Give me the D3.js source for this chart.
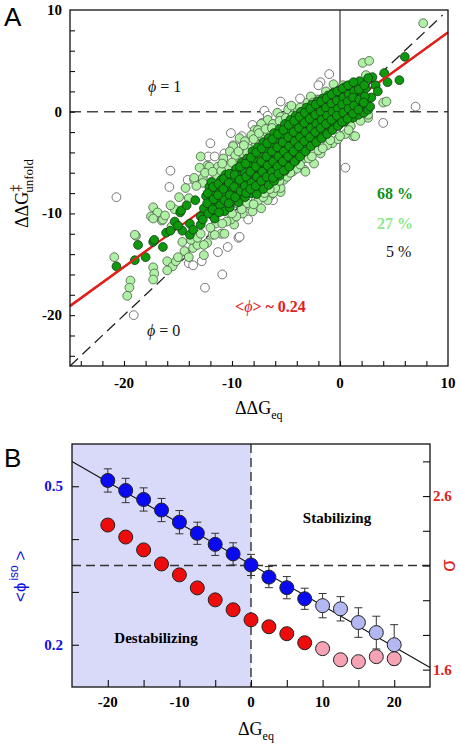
<!DOCTYPE html>
<html><head><meta charset="utf-8">
<script src="https://cdn.jsdelivr.net/npm/d3@7"></script>
<style>body{margin:0;background:#fff}svg{display:block}</style>
</head><body>
<script>
// ---------- Panel A data ----------
const openPts = [[-20.7,-8.4],[-15.7,-5.8],[-15.8,-7.4],[-12.0,-3.1],[-12.2,-4.4],[-11.6,-4.4],[-10.7,-4.1],[-10.1,-2.1],[-9.1,-2.4],[-8.1,-1.3],[-7.2,-1.1],[-7.0,0.1],[-6.7,-0.4],[-5.5,1.0],[-4.7,0.5],[-3.7,1.3],[-1.8,2.9],[-1.0,3.7],[-2.0,2.6],[0.5,-5.5],[4.0,-1.1],[7.0,0.5],[-8.5,-10.6],[-9.4,-12.4],[-19.1,-20.0],[-14.0,-14.9],[-12.8,-14.7],[-12.5,-17.3],[-10.9,-16.0],[-11.3,-13.8],[-10.4,-13.3],[-9.3,-12.3],[-6.2,-8.7],[-14.1,-6.7],[-9.9,-3.3],[-9.2,-3.5],[-13.6,-15.1]];
const lightPts = [[-17.3,-9.4],[-17.5,-10.3],[-16.9,-9.9],[-16.5,-10.7],[-17.3,-10.5],[-16.4,-10.6],[-18.9,-12.2],[-19.0,-12.1],[-20.9,-14.3],[-17.3,-15.3],[-17.2,-15.9],[-17.3,-16.5],[-19.4,-16.6],[-19.5,-17.3],[-19.7,-18.1],[-16.0,-14.7],[-15.5,-15.2],[-16.0,-15.6],[-15.2,-14.7],[-15.0,-14.3],[-14.6,-12.8],[-14.3,-13.8],[-13.6,-13.4],[-13.2,-13.1],[-12.3,-12.9],[-13.8,-12.6],[-15.6,-11.3],[-14.4,-13.7],[-14.0,-14.3],[-13.2,-12.4],[-12.6,-13.1],[-11.8,-12.1],[-11.0,-12.0],[-10.7,-12.0],[-11.6,-12.1],[-12.6,-14.1],[-9.8,-11.1],[-9.0,-10.0],[-9.2,-9.3],[-8.4,-9.2],[-7.8,-8.7],[-6.4,-8.2],[-5.5,-7.9],[-10.7,-9.7],[-9.5,-9.0],[-8.9,-8.7],[-10.1,-10.6],[-7.6,-8.8],[-6.7,-8.7],[-6.2,-8.0],[-5.5,-7.5],[-5.2,-6.7],[-7.3,-9.5],[-8.1,-9.8],[-5.9,-7.0],[-4.8,-5.4],[-4.4,-5.9],[-3.3,-5.7],[-3.5,-4.7],[-2.4,-5.1],[-1.8,-4.1],[-0.7,-3.1],[-3.2,-5.9],[1.0,-1.4],[1.2,-2.4],[1.4,-2.4],[0.9,-0.5],[2.6,-0.6],[2.6,-0.3],[2.1,0.4],[4.0,0.9],[4.3,1.0],[-11.5,-11.0],[-10.5,-10.8],[-9.6,-10.3],[-8.6,-9.0],[-7.1,-8.4],[-6.0,-7.5],[-4.9,-6.4],[-4.0,-5.6],[-2.9,-4.6],[-2.0,-3.8],[-1.2,-3.3],[-0.2,-2.7],[0.5,-2.2],[-13.5,-6.7],[-12.7,-6.5],[-14.3,-7.5],[-14.0,-8.5],[-11.5,-6.2],[-11.3,-5.4],[-10.4,-5.4],[-9.5,-4.7],[-9.0,-4.1],[-8.5,-3.6],[-7.8,-3.1],[-7.3,-2.4],[-6.7,-2.1],[-5.9,-1.8],[-5.2,-1.4],[-7.0,-1.4],[-6.7,-0.8],[-5.8,-0.1],[-4.8,0.2],[-4.2,-0.1],[-3.3,0.0],[-3.0,0.9],[-2.2,1.2],[-1.6,0.9],[-1.3,2.0],[-7.9,-1.8],[-12.3,-5.3],[-12.9,-4.4],[-12.1,-5.4],[-9.9,-3.4],[-9.3,-2.6],[-7.3,-1.2],[-5.5,-0.5],[-3.9,0.2],[-1.9,1.2],[-15.3,-9.6],[-13.5,-6.5],[-12.7,-7.0],[-10.8,-4.6],[-10.2,-3.9],[-8.8,-2.9],[-8.2,-2.3],[-7.6,-1.8],[-6.2,-1.2],[-4.5,0.6],[-2.7,1.5],[-8.6,-4.0],[-11.0,-5.8],[-9.7,-4.3],[2.1,4.8],[2.7,5.0],[2.4,3.6],[7.7,8.7],[1.4,2.7],[0.3,2.6],[-0.6,2.7],
[-13.0,-5.5],[-12.5,-6.0],[-13.3,-7.3],[-11.8,-5.9],[-10.9,-5.1],[-10.0,-5.0],[-9.4,-3.9],[-8.9,-3.3],[-8.0,-2.7],[-7.5,-2.1],[-6.9,-1.7],[-6.3,-1.6],[-5.6,-0.9],[-5.0,-0.6],[-4.4,-0.4],[-3.7,0.4],[-3.1,0.2],[-2.5,0.9],[-14.9,-8.4],[-15.7,-9.2],[-16.2,-10.2],[-12.9,-12.0],[-12.0,-11.4],[-10.9,-11.0],[-10.0,-10.0],[-9.1,-9.6],[-8.0,-9.1],[-7.0,-8.0],[-6.5,-7.6],[-5.6,-6.8],[-4.6,-6.0],[-3.7,-5.2],[-2.6,-4.4],[-1.6,-3.6],[-0.9,-2.8],[0.0,-2.4],[0.8,-1.8],[1.9,-0.9]];
const darkPts = [[-20.7,-15.2],[-19.0,-14.6],[-18.7,-13.1],[-18.0,-14.3],[-17.3,-12.8],[-16.4,-13.3],[-16.1,-11.9],[-15.7,-11.7],[-15.3,-10.8],[-14.8,-9.9],[-14.6,-11.7],[-13.9,-12.1],[-13.4,-8.7],[-12.9,-11.1],[-14.7,-9.7],[-14.2,-9.2],[-12.9,-10.3],[-12.3,-9.7],[-11.3,-9.7],[-13.9,-11.0],[-13.6,-11.6],[-17.2,-12.6],[-15.0,-11.2],
[-12.6,-9.5],[-12.4,-8.3],[-12.7,-10.6],[-12.1,-7.4],[-12.0,-8.9],[-11.8,-10.2],[-11.9,-6.9],[-11.6,-8.0],[-11.4,-9.4],[-11.5,-7.5],[-11.2,-8.6],[-11.6,-10.5],
[-11.0,-6.7],[-10.8,-8.1],[-11.1,-9.2],[-10.7,-9.8],[-10.5,-7.3],[-10.3,-8.7],[-10.6,-6.2],[-10.2,-9.4],[-10.0,-7.9],[-9.8,-6.6],[-10.1,-8.9],[-9.7,-5.9],
[-9.5,-7.1],[-9.4,-8.3],[-9.6,-5.6],[-9.2,-6.3],[-9.4,-8.9],[-9.0,-7.6],[-8.8,-6.0],[-9.1,-5.0],[-8.8,-8.4],[-8.9,-6.9],
[-8.5,-7.2],[-8.3,-5.4],[-8.6,-4.6],[-8.2,-8.0],[-8.5,-6.3],[-8.0,-6.8],[-7.8,-4.9],[-8.1,-3.9],[-7.8,-7.7],[-8.0,-5.8],
[-7.5,-6.2],[-7.3,-4.4],[-7.6,-3.5],[-7.3,-7.4],[-7.5,-5.3],[-7.7,-8.1],[-7.0,-5.7],[-6.8,-3.9],[-7.1,-3.0],[-6.8,-6.9],[-7.0,-4.8],[-7.1,-7.6],
[-6.5,-5.2],[-6.3,-3.4],[-6.6,-2.6],[-6.3,-6.4],[-6.5,-4.3],[-6.6,-7.2],[-6.0,-4.7],[-5.8,-3.0],[-6.1,-2.1],[-5.8,-5.9],[-6.0,-3.8],[-6.1,-6.8],
[-5.5,-4.2],[-5.3,-2.5],[-5.6,-1.7],[-5.3,-5.4],[-5.5,-3.3],[-5.6,-6.3],[-5.0,-3.7],[-4.8,-2.0],[-5.1,-1.2],[-4.8,-4.9],[-5.0,-2.9],[-5.1,-5.8],
[-4.5,-3.3],[-4.3,-1.6],[-4.6,-0.8],[-4.3,-4.4],[-4.5,-2.4],[-4.6,-5.3],[-4.0,-2.8],[-3.8,-1.1],[-4.1,-0.4],[-3.8,-3.9],[-4.0,-2.0],[-4.1,-4.8],
[-3.5,-2.3],[-3.3,-0.7],[-3.6,0.0],[-3.3,-3.4],[-3.5,-1.5],[-3.6,-4.2],[-3.0,-1.9],[-2.8,-0.3],[-3.1,0.4],[-2.8,-2.9],[-3.0,-1.1],[-3.1,-3.7],
[-2.5,-1.4],[-2.3,0.1],[-2.6,0.7],[-2.3,-2.4],[-2.5,-0.6],[-2.6,-3.2],[-2.0,-1.0],[-1.8,0.5],[-2.1,1.0],[-1.8,-2.0],[-2.0,-0.2],[-2.1,-2.8],
[-1.5,-0.6],[-1.3,0.8],[-1.6,1.3],[-1.3,-1.6],[-1.5,0.2],[-1.6,-2.4],[-1.0,-0.2],[-0.8,1.1],[-1.1,1.6],[-0.8,-1.2],[-1.0,0.5],[-1.1,-2.0],
[-0.5,0.2],[-0.3,1.4],[-0.6,1.9],[-0.3,-0.9],[-0.5,0.8],[-0.6,-1.6],[0.0,0.5],[0.2,1.6],[-0.1,2.1],[0.2,-0.5],[0.0,1.1],[-0.1,-1.3],
[0.5,0.8],[0.7,2.0],[0.4,2.4],[0.7,-0.2],[0.5,1.4],[0.4,-1.0],[1.0,1.2],[1.2,2.4],[0.9,0.2],[1.2,-0.6],[1.0,1.8],
[1.5,1.5],[1.7,2.6],[1.4,0.5],[1.7,-0.3],[1.5,2.1],[2.0,1.9],[2.2,0.6],[1.9,2.8],[2.2,-0.1],[2.5,1.2],[2.4,2.3],[2.6,0.2],
[2.9,1.4],[3.0,3.4],[1.8,3.0],[3.3,2.6],[4.1,3.8],[4.4,2.9],[5.5,3.1],[6.0,5.4],[2.8,0.5],[3.5,2.0],[2.6,3.3],
[-12.25,-8.0],[-12.3,-9.0],[-12.2,-10.0],[-11.75,-7.4],[-11.7,-8.6],[-11.8,-9.6],[-11.25,-7.1],[-11.3,-8.2],[-11.2,-9.9],
[-10.75,-6.6],[-10.8,-7.6],[-10.7,-8.7],[-10.25,-6.1],[-10.3,-7.0],[-10.2,-8.2],[-10.3,-9.0],[-9.75,-6.2],[-9.8,-7.4],[-9.7,-8.4],
[-9.25,-5.4],[-9.3,-6.7],[-9.2,-7.8],[-8.75,-5.1],[-8.7,-6.4],[-8.8,-7.3],[-8.7,-8.0],[-8.25,-4.5],[-8.3,-5.9],[-8.2,-7.0],[-8.3,-7.6],
[-7.75,-4.0],[-7.8,-5.4],[-7.7,-6.4],[-7.8,-7.3],[-7.25,-3.6],[-7.3,-4.9],[-7.2,-5.9],[-7.3,-6.8],[-6.75,-3.1],[-6.8,-4.4],[-6.7,-5.3],[-6.8,-6.4],
[-6.25,-2.7],[-6.3,-3.9],[-6.2,-4.9],[-6.3,-5.9],[-6.2,-6.5],[-5.75,-2.2],[-5.8,-3.5],[-5.7,-4.4],[-5.8,-5.4],[-5.7,-6.1],
[-5.25,-1.8],[-5.3,-3.0],[-5.2,-3.9],[-5.3,-4.9],[-5.2,-5.8],[-4.75,-1.3],[-4.8,-2.5],[-4.7,-3.4],[-4.8,-4.4],[-4.7,-5.4],
[-4.25,-0.9],[-4.3,-2.0],[-4.2,-2.9],[-4.3,-3.9],[-4.2,-4.9],[-3.75,-0.5],[-3.8,-1.6],[-3.7,-2.5],[-3.8,-3.4],[-3.7,-4.4],
[-3.25,-0.1],[-3.3,-1.1],[-3.2,-2.0],[-3.3,-2.9],[-3.2,-3.9],[-2.75,0.3],[-2.8,-0.7],[-2.7,-1.6],[-2.8,-2.5],[-2.7,-3.4],
[-2.25,0.7],[-2.3,-0.3],[-2.2,-1.2],[-2.3,-2.0],[-2.2,-3.0],[-1.75,1.0],[-1.8,0.0],[-1.7,-0.8],[-1.8,-1.6],[-1.7,-2.6],
[-1.25,1.3],[-1.3,0.4],[-1.2,-0.4],[-1.3,-1.2],[-1.2,-2.2],[-0.75,1.7],[-0.8,0.8],[-0.7,0.0],[-0.8,-0.8],[-0.7,-1.8],
[-0.25,2.0],[-0.3,1.1],[-0.2,0.3],[-0.3,-0.4],[-0.2,-1.4],[0.25,2.3],[0.3,1.4],[0.2,0.7],[0.3,-0.1],[0.2,-1.0],
[0.75,2.6],[0.8,1.7],[0.7,1.0],[0.8,0.3],[0.7,-0.7],[1.25,2.9],[1.3,2.0],[1.2,1.4],[1.3,0.6],[1.2,-0.2],
[1.75,2.2],[1.8,1.2],[1.7,0.2],[2.25,2.6],[2.3,1.5],[2.2,0.9]];
const fitX = [-25, 10];
const fitY = [-19.1, 7.8];
const diagX = [-25, 9.5];
const xTicksA = [-20, -10, 0, 10];
const yTicksA = [10, 0, -10, -20];
const pctLabels = ["68 %", "27 %", "5 %"];

// ---------- Panel B data ----------
const dG = [-20,-17.5,-15,-12.5,-10,-7.5,-5,-2.5,0,2.5,5,7.5,10,12.5,15,17.5,20];
const phiIso = [0.511,0.492,0.475,0.455,0.432,0.411,0.390,0.372,0.351,0.328,0.308,0.287,0.274,0.268,0.242,0.223,0.200];
const phiErr = [0.022,0.023,0.022,0.022,0.022,0.021,0.021,0.021,0.020,0.020,0.021,0.020,0.023,0.023,0.028,0.031,0.038];
const sigma = [2.433,2.364,2.290,2.209,2.146,2.071,2.002,1.945,1.887,1.847,1.807,1.755,1.721,1.657,1.646,1.675,1.663];
const phiLineX = [-25, 25];
const phiLineY = [0.547, 0.157];
const sigmaRef = 2.2;
const xTicksB = [-20, -10, 0, 10, 20];
const yLTicksB = [0.5, 0.2];
const yRTicksB = [2.6, 1.6];

const W = 460, H = 748;
const svg = d3.select("body").append("svg").attr("width", W).attr("height", H);
const serif = "'Liberation Serif','Times New Roman',serif";
const sans = "'Liberation Sans',Arial,sans-serif";

// ================= PANEL A =================
const xA = d3.scaleLinear().domain([-25, 10]).range([70, 448]);
const yA = d3.scaleLinear().domain([-25, 10]).range([366, 10]);
const gA = svg.append("g");

gA.append("line").attr("x1", xA(-25)).attr("x2", xA(10)).attr("y1", yA(0)).attr("y2", yA(0))
  .attr("stroke", "#444").attr("stroke-width", 1.6).attr("stroke-dasharray", "11,6");
gA.append("line").attr("x1", xA(diagX[0])).attr("y1", yA(diagX[0])).attr("x2", xA(diagX[1])).attr("y2", yA(diagX[1]))
  .attr("stroke", "#222").attr("stroke-width", 1.3).attr("stroke-dasharray", "11,6");
gA.append("line").attr("x1", xA(0)).attr("x2", xA(0)).attr("y1", yA(10)).attr("y2", yA(-25))
  .attr("stroke", "#222").attr("stroke-width", 1.1);
gA.append("line").attr("x1", xA(fitX[0])).attr("y1", yA(fitY[0])).attr("x2", xA(fitX[1])).attr("y2", yA(fitY[1]))
  .attr("stroke", "#e3201b").attr("stroke-width", 2.2);

function drawPts(data, fill, stroke) {
  gA.append("g").selectAll("circle").data(data).join("circle")
    .attr("cx", d => xA(d[0])).attr("cy", d => yA(d[1])).attr("r", 4.4)
    .attr("fill", fill).attr("stroke", stroke).attr("stroke-width", 0.8);
}
drawPts(openPts, "#fff", "#555");
drawPts(lightPts, "#aef0a4", "#4a5a48");
drawPts(darkPts, "#0c990c", "#163816");

const fitAt = x => fitY[0] + (fitY[1] - fitY[0]) * (x - fitX[0]) / (fitX[1] - fitX[0]);
gA.append("line").attr("x1", xA(fitX[0])).attr("y1", yA(fitY[0])).attr("x2", xA(-17.5)).attr("y2", yA(fitAt(-17.5)))
  .attr("stroke", "#e3201b").attr("stroke-width", 2.2);
gA.append("line").attr("x1", xA(3.6)).attr("y1", yA(fitAt(3.6))).attr("x2", xA(fitX[1])).attr("y2", yA(fitY[1]))
  .attr("stroke", "#e3201b").attr("stroke-width", 2.2);

gA.append("rect").attr("x", 70).attr("y", 10).attr("width", 378).attr("height", 356)
  .attr("fill", "none").attr("stroke", "#111").attr("stroke-width", 1.3);
const ax = gA.append("g").attr("transform", `translate(0,${yA(-25)})`)
  .call(d3.axisBottom(xA).tickValues(d3.range(-24, 10, 2)).tickSize(-5).tickFormat(""));
const ay = gA.append("g").attr("transform", `translate(${xA(-25)},0)`)
  .call(d3.axisLeft(yA).tickValues(d3.range(-24, 10, 2)).tickSize(-5).tickFormat(""));
[ax, ay].forEach(g => { g.select(".domain").remove(); g.selectAll("line").attr("stroke", "#111").attr("stroke-width", 1.1); });

gA.append("g").selectAll("text").data(xTicksA).join("text")
  .attr("x", d => xA(d)).attr("y", 388).attr("text-anchor", "middle")
  .attr("font-family", serif).attr("font-weight", "bold").attr("font-size", 15).text(d => d);
gA.append("g").selectAll("text").data(yTicksA).join("text")
  .attr("x", 62).attr("y", d => yA(d) + 5).attr("text-anchor", "end")
  .attr("font-family", serif).attr("font-weight", "bold").attr("font-size", 15).text(d => d);

svg.append("text").attr("x", 4).attr("y", 26).attr("font-family", sans).attr("font-size", 26).text("A");
const xtA = svg.append("text").attr("x", 235).attr("y", 414).attr("font-family", serif).attr("font-size", 18);
xtA.append("tspan").text("ΔΔG");
xtA.append("tspan").attr("font-size", 12).attr("dy", 5).text("eq");
const ytA = svg.append("text").attr("transform", "translate(28,228) rotate(-90)").attr("font-family", serif).attr("font-size", 18);
ytA.append("tspan").text("ΔΔG");
ytA.append("tspan").attr("font-size", 14).attr("dy", -8).text("‡");
ytA.append("tspan").attr("font-size", 13).attr("dx", -8).attr("dy", 13).text("unfold");

function annot(x, y, color, weight) {
  return svg.append("text").attr("x", x).attr("y", y).attr("font-family", serif).attr("font-size", 16)
    .attr("fill", color).attr("font-weight", weight);
}
let t1 = annot(148, 92, "#111", "normal");
t1.append("tspan").attr("font-style", "italic").text("ϕ");
t1.append("tspan").text(" = 1");
let t0 = annot(147, 336, "#111", "normal");
t0.append("tspan").attr("font-style", "italic").text("ϕ");
t0.append("tspan").text(" = 0");
let tm = annot(235, 312, "#e3201b", "bold");
tm.append("tspan").text("<");
tm.append("tspan").attr("font-style", "italic").attr("font-weight", "normal").text("ϕ");
tm.append("tspan").text("> ~ 0.24");
const pctColors = ["#138f13", "#8fe88a", "#111"];
const pctY = [199, 229, 257];
const pctW = ["bold", "bold", "normal"];
pctLabels.forEach((s, i) => {
  svg.append("text").attr("x", i === 2 ? 386 : 377).attr("y", pctY[i]).attr("font-family", serif)
    .attr("font-size", 16).attr("font-weight", pctW[i]).attr("fill", pctColors[i]).text(s);
});

// ================= PANEL B =================
const xB = d3.scaleLinear().domain([-25, 25]).range([72, 430]);
const yL = d3.scaleLinear().domain([0.12, 0.58]).range([687, 444]);
const yR = d3.scaleLinear().domain([1.5, 2.9]).range([687, 444]);
const gB = svg.append("g");

gB.append("rect").attr("x", xB(-25)).attr("y", 444).attr("width", xB(0) - xB(-25)).attr("height", 243)
  .attr("fill", "#d9d9fa");
gB.append("line").attr("x1", xB(0)).attr("x2", xB(0)).attr("y1", 444).attr("y2", 687)
  .attr("stroke", "#333").attr("stroke-width", 1.4).attr("stroke-dasharray", "9,5");
gB.append("line").attr("x1", xB(-25)).attr("x2", xB(25)).attr("y1", yR(sigmaRef)).attr("y2", yR(sigmaRef))
  .attr("stroke", "#333").attr("stroke-width", 1.4).attr("stroke-dasharray", "9,5");
gB.append("line").attr("x1", xB(phiLineX[0])).attr("y1", yL(phiLineY[0])).attr("x2", xB(phiLineX[1])).attr("y2", yL(phiLineY[1]))
  .attr("stroke", "#111").attr("stroke-width", 1.1);

const eb = gB.append("g").attr("stroke", "#333").attr("stroke-width", 1);
dG.forEach((x, i) => {
  const cx = xB(x), y1 = yL(phiIso[i] + phiErr[i]), y2 = yL(phiIso[i] - phiErr[i]);
  eb.append("line").attr("x1", cx).attr("x2", cx).attr("y1", y1).attr("y2", y2);
  eb.append("line").attr("x1", cx - 4).attr("x2", cx + 4).attr("y1", y1).attr("y2", y1);
  eb.append("line").attr("x1", cx - 4).attr("x2", cx + 4).attr("y1", y2).attr("y2", y2);
});
gB.append("g").selectAll("circle").data(dG).join("circle")
  .attr("cx", d => xB(d)).attr("cy", (d, i) => yR(sigma[i])).attr("r", 7)
  .attr("fill", d => d >= 10 ? "#f5a3b5" : "#ee0b0b").attr("stroke", "#222").attr("stroke-width", 1);
gB.append("g").selectAll("circle").data(dG).join("circle")
  .attr("cx", d => xB(d)).attr("cy", (d, i) => yL(phiIso[i])).attr("r", 7)
  .attr("fill", d => d >= 10 ? "#b3b7f2" : "#0a0af0").attr("stroke", "#222").attr("stroke-width", 1);

gB.append("rect").attr("x", 72).attr("y", 444).attr("width", 358).attr("height", 243)
  .attr("fill", "none").attr("stroke", "#111").attr("stroke-width", 1.3);
const bx = gB.append("g").attr("transform", "translate(0,687)")
  .call(d3.axisBottom(xB).tickValues(d3.range(-20, 25, 5)).tickSize(-7).tickFormat(""));
const bl = gB.append("g").attr("transform", "translate(72,0)")
  .call(d3.axisLeft(yL).tickValues([0.2, 0.3, 0.4, 0.5]).tickSize(-7).tickFormat(""));
const br = gB.append("g").attr("transform", "translate(430,0)")
  .call(d3.axisRight(yR).tickValues([1.6, 1.8, 2.0, 2.2, 2.4, 2.6, 2.8]).tickSize(-7).tickFormat(""));
[bx, bl, br].forEach(g => { g.select(".domain").remove(); g.selectAll("line").attr("stroke", "#111").attr("stroke-width", 1.1); });

gB.append("g").selectAll("text").data(xTicksB).join("text")
  .attr("x", d => xB(d)).attr("y", 707).attr("text-anchor", "middle")
  .attr("font-family", serif).attr("font-weight", "bold").attr("font-size", 15).text(d => d);
gB.append("g").selectAll("text").data(yLTicksB).join("text")
  .attr("x", 63).attr("y", d => yL(d) + 5).attr("text-anchor", "end").attr("fill", "#1010e0")
  .attr("font-family", serif).attr("font-weight", "bold").attr("font-size", 15).text(d => d);
gB.append("g").selectAll("text").data(yRTicksB).join("text")
  .attr("x", 433).attr("y", d => yR(d) + 5).attr("text-anchor", "start").attr("fill", "#e3201b")
  .attr("font-family", serif).attr("font-weight", "bold").attr("font-size", 15).text(d => d);

svg.append("text").attr("x", 4).attr("y", 467).attr("font-family", sans).attr("font-size", 26).text("B");
svg.append("text").attr("x", 337).attr("y", 523).attr("text-anchor", "middle").attr("font-family", serif)
  .attr("font-weight", "bold").attr("font-size", 15).text("Stabilizing");
svg.append("text").attr("x", 156).attr("y", 643).attr("text-anchor", "middle").attr("font-family", serif)
  .attr("font-weight", "bold").attr("font-size", 15).text("Destabilizing");

const xtB = svg.append("text").attr("x", 238).attr("y", 735).attr("font-family", serif).attr("font-size", 18);
xtB.append("tspan").text("ΔG");
xtB.append("tspan").attr("font-size", 12).attr("dy", 5).text("eq");

const ytB = svg.append("text").attr("transform", "translate(26,602) rotate(-90)").attr("font-family", sans)
  .attr("font-size", 17).attr("fill", "#1010e0");
ytB.append("tspan").text("<ϕ");
ytB.append("tspan").attr("font-size", 12).attr("dy", -8).attr("dx", 2).text("iso");
ytB.append("tspan").attr("dy", 8).text(" >");

svg.append("text").attr("transform", `translate(455,${yR(sigmaRef)}) rotate(-90)`).attr("text-anchor", "middle")
  .attr("font-family", sans).attr("font-size", 20).attr("fill", "#e3201b").text("σ");
</script>
</body></html>
